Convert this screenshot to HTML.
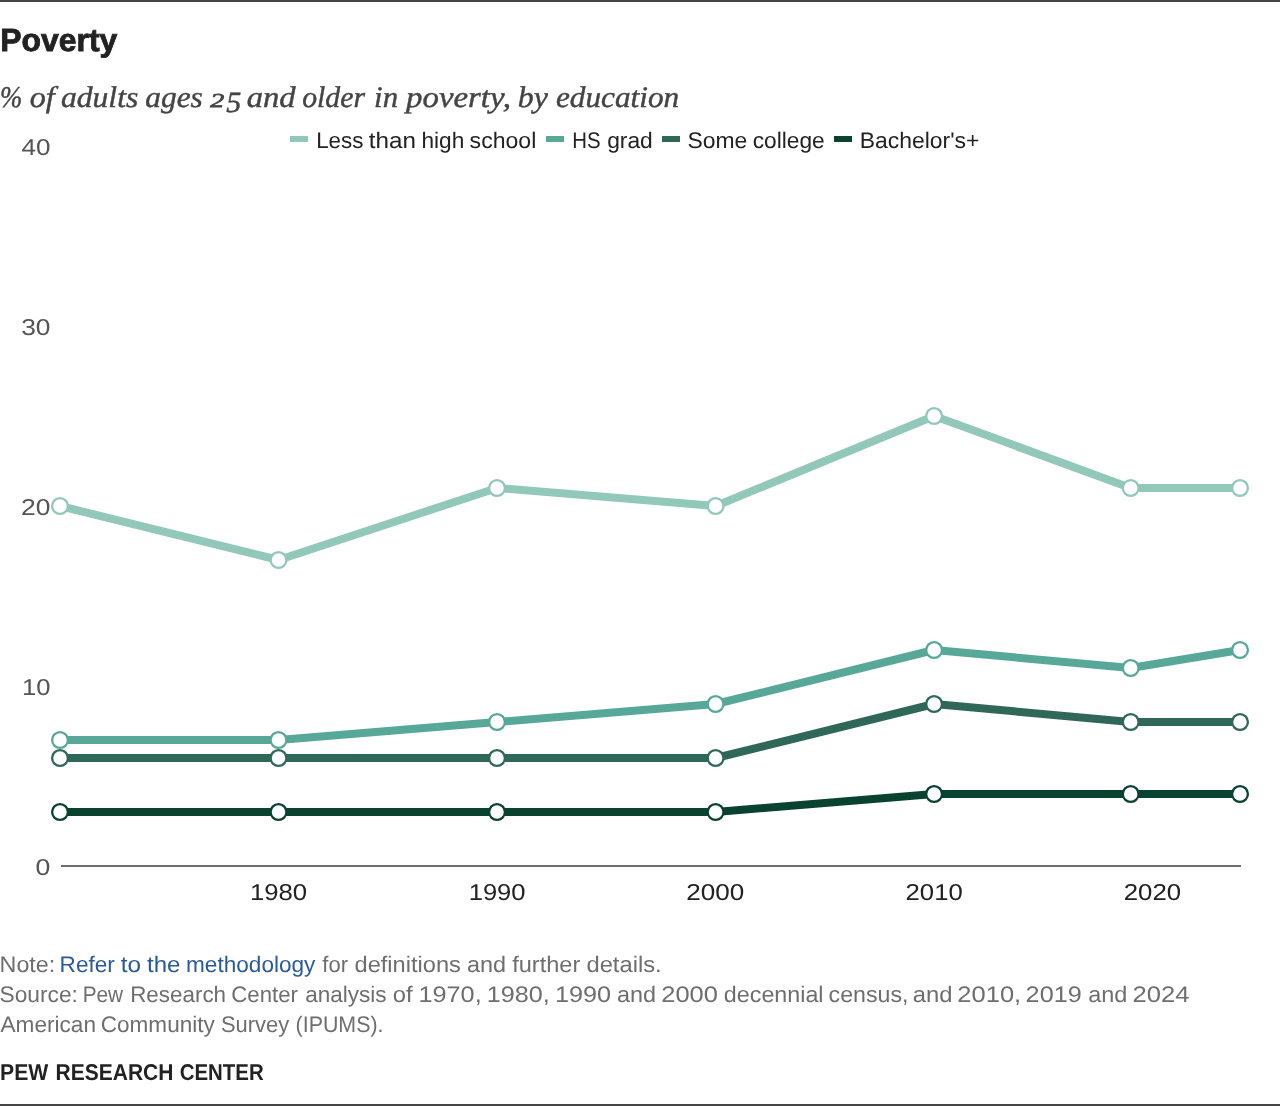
<!DOCTYPE html>
<html lang="en"><head><meta charset="utf-8"><title>Poverty</title>
<style>
html,body{margin:0;padding:0;background:#fff;}
body{width:1280px;height:1106px;position:relative;overflow:hidden;font-family:"Liberation Sans",sans-serif;}
#page{position:absolute;left:0;top:0;width:1280px;height:1106px;will-change:transform;text-rendering:geometricPrecision;}
.rule{position:absolute;left:0;width:1280px;background:#454545;}
.w{position:absolute;left:0;top:0;white-space:nowrap;transform-origin:0 0;line-height:normal;margin:0;padding:0;text-rendering:geometricPrecision;}
.t{font-family:'Liberation Sans',sans-serif;font-weight:bold;font-size:33.6px;-webkit-text-stroke:0.9px;color:#222;}
.s{font-family:'Liberation Serif',serif;font-style:italic;font-size:31.5px;-webkit-text-stroke:0.45px;color:#444;}
.o2{font-family:'Liberation Serif',serif;font-style:italic;font-size:21px;-webkit-text-stroke:0.8px;color:#444;}
.o5{font-family:'Liberation Serif',serif;font-style:italic;font-size:30px;-webkit-text-stroke:0.45px;color:#444;}
.l{font-family:'Liberation Sans',sans-serif;font-size:22.3px;color:#222;}
.y{font-family:'Liberation Sans',sans-serif;font-size:22.7px;color:#555;}
.x{font-family:'Liberation Sans',sans-serif;font-size:22.7px;color:#222;}
.n{font-family:'Liberation Sans',sans-serif;font-size:22.3px;color:#6e6e6e;}
.b{font-family:'Liberation Sans',sans-serif;font-weight:bold;font-size:22.7px;color:#222;}
.sw{position:absolute;top:136px;width:18px;height:6px;}
svg{position:absolute;left:0;top:0;}
</style></head>
<body><div id="page">
<div class="rule" style="top:0;height:2px"></div>
<div class="sw" style="left:290px;background:#92c8ba"></div><div class="sw" style="left:546.2px;background:#57a899"></div><div class="sw" style="left:662.2px;background:#2f6758"></div><div class="sw" style="left:834px;background:#0a4232"></div>
<svg width="1280" height="1106" viewBox="0 0 1280 1106">
<line x1="61" y1="866" x2="1241" y2="866" stroke="#6e6e6e" stroke-width="2"/>
<polyline points="60.0,506.0 278.5,560.0 497.0,488.0 715.6,506.0 934.1,416.0 1130.7,488.0 1240.0,488.0" fill="none" stroke="#92c8ba" stroke-width="8" stroke-linejoin="round"/>
<polyline points="60.0,740.0 278.5,740.0 497.0,722.0 715.6,704.0 934.1,650.0 1130.7,668.0 1240.0,650.0" fill="none" stroke="#57a899" stroke-width="8" stroke-linejoin="round"/>
<polyline points="60.0,758.0 278.5,758.0 497.0,758.0 715.6,758.0 934.1,704.0 1130.7,722.0 1240.0,722.0" fill="none" stroke="#2f6758" stroke-width="8" stroke-linejoin="round"/>
<polyline points="60.0,812.0 278.5,812.0 497.0,812.0 715.6,812.0 934.1,794.0 1130.7,794.0 1240.0,794.0" fill="none" stroke="#0a4232" stroke-width="8" stroke-linejoin="round"/>
<g fill="#fff" stroke="#92c8ba" stroke-width="2.3"><circle cx="60.0" cy="506.0" r="7.9"/><circle cx="278.5" cy="560.0" r="7.9"/><circle cx="497.0" cy="488.0" r="7.9"/><circle cx="715.6" cy="506.0" r="7.9"/><circle cx="934.1" cy="416.0" r="7.9"/><circle cx="1130.7" cy="488.0" r="7.9"/><circle cx="1240.0" cy="488.0" r="7.9"/></g>
<g fill="#fff" stroke="#57a899" stroke-width="2.3"><circle cx="60.0" cy="740.0" r="7.9"/><circle cx="278.5" cy="740.0" r="7.9"/><circle cx="497.0" cy="722.0" r="7.9"/><circle cx="715.6" cy="704.0" r="7.9"/><circle cx="934.1" cy="650.0" r="7.9"/><circle cx="1130.7" cy="668.0" r="7.9"/><circle cx="1240.0" cy="650.0" r="7.9"/></g>
<g fill="#fff" stroke="#2f6758" stroke-width="2.3"><circle cx="60.0" cy="758.0" r="7.9"/><circle cx="278.5" cy="758.0" r="7.9"/><circle cx="497.0" cy="758.0" r="7.9"/><circle cx="715.6" cy="758.0" r="7.9"/><circle cx="934.1" cy="704.0" r="7.9"/><circle cx="1130.7" cy="722.0" r="7.9"/><circle cx="1240.0" cy="722.0" r="7.9"/></g>
<g fill="#fff" stroke="#0a4232" stroke-width="2.3"><circle cx="60.0" cy="812.0" r="7.9"/><circle cx="278.5" cy="812.0" r="7.9"/><circle cx="497.0" cy="812.0" r="7.9"/><circle cx="715.6" cy="812.0" r="7.9"/><circle cx="934.1" cy="794.0" r="7.9"/><circle cx="1130.7" cy="794.0" r="7.9"/><circle cx="1240.0" cy="794.0" r="7.9"/></g>
</svg>
<span class="w t" style="transform:translate(0.36px,23.36px) scale(0.9489,0.9516)">Poverty</span>
<span class="w s" style="transform:translate(0.12px,80.39px) scale(0.8497,0.9516)">%</span>
<span class="w s" style="transform:translate(29.64px,80.39px) scale(1.0190,0.9516)">of</span>
<span class="w s" style="transform:translate(60.90px,80.39px) scale(1.0047,0.9516)">adults</span>
<span class="w s" style="transform:translate(145.30px,80.39px) scale(0.9959,0.9516)">ages</span>
<span class="w s" style="transform:translate(246.79px,80.39px) scale(1.0339,0.9516)">and</span>
<span class="w s" style="transform:translate(302.14px,80.39px) scale(0.9465,0.9516)">older</span>
<span class="w s" style="transform:translate(374.06px,80.39px) scale(0.9788,0.9516)">in</span>
<span class="w s" style="transform:translate(406.08px,80.39px) scale(1.0426,0.9516)">poverty,</span>
<span class="w s" style="transform:translate(517.74px,80.39px) scale(1.0122,0.9516)">by</span>
<span class="w s" style="transform:translate(555.91px,80.39px) scale(0.9925,0.9516)">education</span>
<span class="w o2" style="transform:translate(210.31px,89.16px) scale(1.3342,0.9373)">2</span>
<span class="w o5" style="transform:translate(226.18px,86.53px) scale(1.0020,0.9783)">5</span>
<span class="w l" style="transform:translate(316.18px,127.75px) scale(1.0032,1.0104)">Less</span>
<span class="w l" style="transform:translate(368.73px,127.75px) scale(1.0872,1.0104)">than</span>
<span class="w l" style="transform:translate(421.45px,127.75px) scale(1.0170,1.0104)">high</span>
<span class="w l" style="transform:translate(469.61px,127.75px) scale(1.0346,1.0104)">school</span>
<span class="w l" style="transform:translate(572.31px,127.75px) scale(0.9141,1.0104)">HS</span>
<span class="w l" style="transform:translate(607.18px,127.75px) scale(1.0222,1.0104)">grad</span>
<span class="w l" style="transform:translate(687.44px,127.75px) scale(1.0268,1.0104)">Some</span>
<span class="w l" style="transform:translate(752.68px,127.75px) scale(1.0196,1.0104)">college</span>
<span class="w l" style="transform:translate(859.73px,127.75px) scale(1.0274,1.0104)">Bachelor's+</span>
<span class="w y" style="transform:translate(21.55px,133.75px) scale(1.1490,1.0119)">40</span>
<span class="w y" style="transform:translate(21.19px,313.75px) scale(1.1623,1.0119)">30</span>
<span class="w y" style="transform:translate(21.11px,493.75px) scale(1.1636,1.0119)">20</span>
<span class="w y" style="transform:translate(21.89px,673.75px) scale(1.1291,1.0119)">10</span>
<span class="w y" style="transform:translate(35.53px,853.75px) scale(1.1750,1.0119)">0</span>
<span class="w x" style="transform:translate(249.90px,878.75px) scale(1.1333,1.0119)">1980</span>
<span class="w x" style="transform:translate(468.65px,878.75px) scale(1.1278,1.0119)">1990</span>
<span class="w x" style="transform:translate(686.20px,878.75px) scale(1.1489,1.0119)">2000</span>
<span class="w x" style="transform:translate(905.55px,878.75px) scale(1.1331,1.0119)">2010</span>
<span class="w x" style="transform:translate(1123.77px,878.75px) scale(1.1343,1.0119)">2020</span>
<span class="w n" style="transform:translate(-0.42px,951.75px) scale(1.0446,1.0104)">Note:</span>
<span class="w n" style="transform:translate(59.57px,951.75px) scale(1.0137,1.0104);color:#2a5a9a">Refer</span>
<span class="w n" style="transform:translate(120.71px,951.75px) scale(1.0917,1.0104);color:#2a5a9a">to</span>
<span class="w n" style="transform:translate(147.03px,951.75px) scale(1.0779,1.0104);color:#2a5a9a">the</span>
<span class="w n" style="transform:translate(186.06px,951.75px) scale(1.0129,1.0104);color:#2a5a9a">methodology</span>
<span class="w n" style="transform:translate(322.25px,951.75px) scale(0.9895,1.0104)">for</span>
<span class="w n" style="transform:translate(354.51px,951.75px) scale(1.0597,1.0104)">definitions</span>
<span class="w n" style="transform:translate(467.04px,951.75px) scale(1.0494,1.0104)">and</span>
<span class="w n" style="transform:translate(512.17px,951.75px) scale(1.0569,1.0104)">further</span>
<span class="w n" style="transform:translate(586.50px,951.75px) scale(1.0631,1.0104)">details.</span>
<span class="w n" style="transform:translate(-0.48px,981.75px) scale(1.0192,1.0104)">Source:</span>
<span class="w n" style="transform:translate(82.69px,981.75px) scale(0.9310,1.0104)">Pew</span>
<span class="w n" style="transform:translate(130.15px,981.75px) scale(1.0051,1.0104)">Research</span>
<span class="w n" style="transform:translate(231.35px,981.75px) scale(0.9944,1.0104)">Center</span>
<span class="w n" style="transform:translate(305.15px,981.75px) scale(1.0106,1.0104)">analysis</span>
<span class="w n" style="transform:translate(392.74px,981.75px) scale(1.0672,1.0104)">of</span>
<span class="w n" style="transform:translate(418.49px,981.75px) scale(1.1324,1.0104)">1970,</span>
<span class="w n" style="transform:translate(486.82px,981.75px) scale(1.1278,1.0104)">1980,</span>
<span class="w n" style="transform:translate(555.06px,981.75px) scale(1.1303,1.0104)">1990</span>
<span class="w n" style="transform:translate(617.04px,981.75px) scale(1.0494,1.0104)">and</span>
<span class="w n" style="transform:translate(661.30px,981.75px) scale(1.1418,1.0104)">2000</span>
<span class="w n" style="transform:translate(723.87px,981.75px) scale(1.0438,1.0104)">decennial</span>
<span class="w n" style="transform:translate(828.55px,981.75px) scale(1.0395,1.0104)">census,</span>
<span class="w n" style="transform:translate(912.76px,981.75px) scale(1.0670,1.0104)">and</span>
<span class="w n" style="transform:translate(957.36px,981.75px) scale(1.1430,1.0104)">2010,</span>
<span class="w n" style="transform:translate(1025.61px,981.75px) scale(1.1303,1.0104)">2019</span>
<span class="w n" style="transform:translate(1088.25px,981.75px) scale(1.0528,1.0104)">and</span>
<span class="w n" style="transform:translate(1132.56px,981.75px) scale(1.1475,1.0104)">2024</span>
<span class="w n" style="transform:translate(0.54px,1011.75px) scale(1.0137,1.0104)">American</span>
<span class="w n" style="transform:translate(100.76px,1011.75px) scale(1.0112,1.0104)">Community</span>
<span class="w n" style="transform:translate(220.93px,1011.75px) scale(0.9824,1.0104)">Survey</span>
<span class="w n" style="transform:translate(295.58px,1011.75px) scale(0.9594,1.0104)">(IPUMS).</span>
<span class="w b" style="transform:translate(0.04px,1058.85px) scale(0.9334,1.0072)">PEW</span>
<span class="w b" style="transform:translate(55.60px,1058.85px) scale(0.9254,1.0072)">RESEARCH</span>
<span class="w b" style="transform:translate(179.68px,1058.85px) scale(0.9001,1.0072)">CENTER</span>
<div class="rule" style="top:1104px;height:2px"></div>
</div></body></html>
